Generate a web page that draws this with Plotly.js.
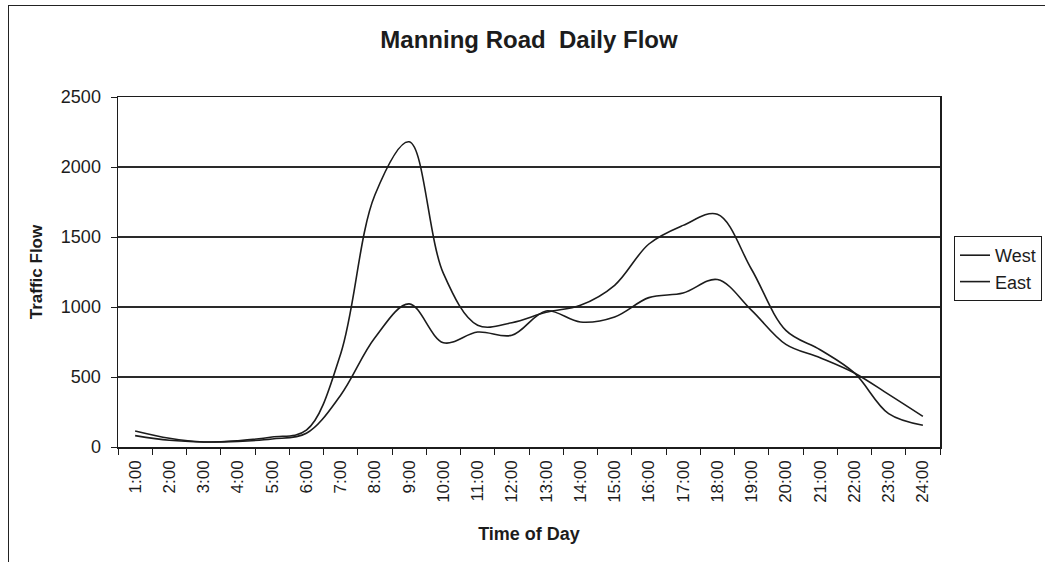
<!DOCTYPE html>
<html>
<head>
<meta charset="utf-8">
<script src="https://cdn.plot.ly/plotly-3.0.1.min.js"></script>
<style>
  html, body { margin: 0; padding: 0; background: #ffffff; }
  #chart { position: absolute; left: 0; top: 0; width: 1045px; height: 562px; }
  #frame { position: absolute; left: 8px; top: 5px; width: 1037px; height: 557px;
           border-left: 1px solid #222; border-top: 1px solid #222; pointer-events: none; }
</style>
</head>
<body>
<div id="chart"></div>
<div id="frame"></div>
<script>
const hours = ["1:00","2:00","3:00","4:00","5:00","6:00","7:00","8:00","9:00","10:00","11:00","12:00",
               "13:00","14:00","15:00","16:00","17:00","18:00","19:00","20:00","21:00","22:00","23:00","24:00"];
const west = [114, 62, 36, 45, 71, 120, 665, 1800, 2180, 1240, 870, 888,
              962, 1012, 1155, 1450, 1583, 1662, 1268, 833, 695, 529, 238, 155];
const east = [81, 48, 36, 40, 57, 98, 370, 780, 1022, 745, 821, 798,
              972, 893, 929, 1067, 1100, 1196, 976, 733, 638, 529, 376, 219];

const FONT = "Liberation Sans, Arial, sans-serif";
const lineStyle = { color: "#1c1c1c", width: 1.6, shape: "spline", smoothing: 1 };

const traces = [
  { x: hours, y: west, name: "West", type: "scatter", mode: "lines", line: lineStyle },
  { x: hours, y: east, name: "East", type: "scatter", mode: "lines", line: lineStyle }
];

const layout = {
  width: 1045, height: 562,
  paper_bgcolor: "rgba(0,0,0,0)", plot_bgcolor: "#ffffff",
  margin: { l: 118, r: 105, t: 97, b: 115, autoexpand: false },
  font: { family: FONT, color: "#1c1c1c", size: 17 },
  title: { text: "<b>Manning Road  Daily Flow</b>", font: { family: FONT, size: 24, color: "#1c1c1c" },
           x: 0.5, xref: "paper", y: 1 - 40/562, yref: "container", yanchor: "middle" },
  showlegend: true,
  legend: { xref: "container", x: 954/1045, xanchor: "left", y: 0.51, yanchor: "middle",
            bordercolor: "#1c1c1c", borderwidth: 1, bgcolor: "#ffffff",
            font: { family: FONT, size: 18, color: "#1c1c1c" },
            itemwidth: 30, tracegroupgap: 2 },
  xaxis: {
    type: "category", range: [-0.5, 23.5], tickson: "boundaries",
    ticks: "outside", ticklen: 6, tickcolor: "#1c1c1c", tickwidth: 1,
    showline: true, linecolor: "#1c1c1c", linewidth: 1.5, mirror: true,
    showgrid: false, tickangle: -90, ticklabelstandoff: 5,
    tickfont: { family: FONT, size: 17, color: "#1c1c1c" },
    title: { text: "<b>Time of Day</b>", font: { family: FONT, size: 18, color: "#1c1c1c" }, standoff: 25 }
  },
  yaxis: {
    range: [0, 2500], dtick: 500, tick0: 0,
    ticks: "outside", ticklen: 6, tickcolor: "#1c1c1c", tickwidth: 1,
    showline: true, linecolor: "#1c1c1c", linewidth: 1.5, mirror: true,
    showgrid: true, gridcolor: "#2a2a2a", gridwidth: 1.3, zeroline: false,
    ticklabelstandoff: 6,
    tickfont: { family: FONT, size: 18, color: "#1c1c1c" },
    title: { text: "<b>Traffic Flow</b>", font: { family: FONT, size: 17, color: "#1c1c1c" }, standoff: 14 }
  }
};

Plotly.newPlot("chart", traces, layout, { displayModeBar: false, staticPlot: true });
</script>
</body>
</html>
